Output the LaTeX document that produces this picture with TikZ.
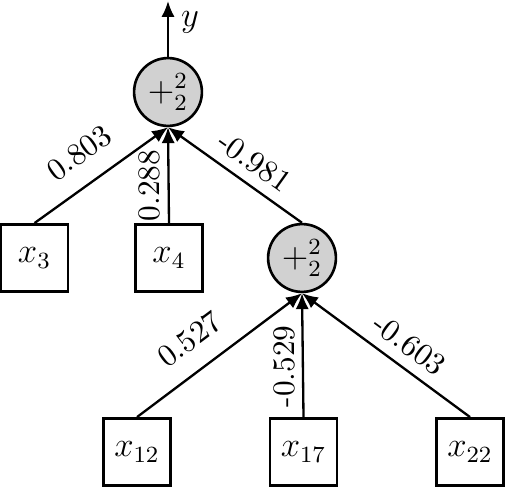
\documentclass[tikz,border=0pt]{standalone}
\usetikzlibrary{arrows.meta}
\begin{document}
\begin{tikzpicture}[x=0.345pt,y=-0.345pt,
  opnode/.style={circle,draw,line width=0.9pt,fill=black!18,minimum size=23.4pt,inner sep=0pt,font=\fontsize{11.5pt}{14pt}\selectfont},
  varnode/.style={rectangle,draw,line width=0.9pt,minimum size=23.2pt,inner sep=0pt,font=\large},
  conn/.style={line width=0.8pt,-{Latex[length=5.5pt,width=4.6pt]}},
  wlabel/.style 2 args={sloped,above,pos=#1,inner sep=#2,font=\fontsize{10.8pt}{13pt}\selectfont},
  vlabel/.style 2 args={rotate=90,anchor=south,pos=#1,inner sep=#2,font=\fontsize{10.8pt}{13pt}\selectfont}]
\useasboundingbox (0,0) rectangle (505,488);
\node[opnode] (c1) at (168,92) {$+_2^2$};
\node[opnode] (c2) at (302,258) {$+_2^2$};
\node[varnode] (x3) at (34.5,258) {$x_3$};
\node[varnode] (x4) at (169,258) {$x_4$};
\node[varnode] (x12) at (137,452) {$x_{12}$};
\node[varnode] (x17) at (303.5,452) {$x_{17}$};
\node[varnode] (x22) at (470,452) {$x_{22}$};
\coordinate (yout) at (168,1);
\node[font=\large] (ylab) at (190,22) {$y$};
\draw[conn] (c1.north) -- (yout);
\draw[conn] (x3.north) -- node[wlabel={0.47}{6.5pt}] {0.803} (c1.south);
\draw[conn] (x4.north) -- node[vlabel={0.39}{2.4pt}] {0.288} (c1.south);
\draw[conn] (c2.north) -- node[wlabel={0.45}{3.4pt}] {-0.981} (c1.south);
\draw[conn] (x12.north) -- node[wlabel={0.43}{6.5pt}] {0.527} (c2.south);
\draw[conn] (x17.north) -- node[vlabel={0.41}{2.2pt}] {-0.529} (c2.south);
\draw[conn] (x22.north) -- node[wlabel={0.44}{3.6pt}] {-0.603} (c2.south);
\end{tikzpicture}
\end{document}
